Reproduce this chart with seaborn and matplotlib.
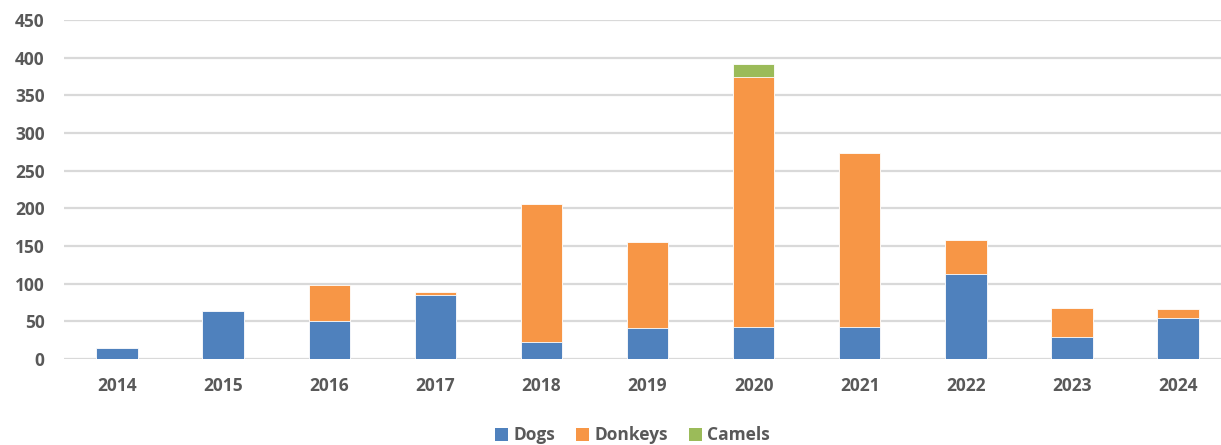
import numpy as np
import pandas as pd
import matplotlib
matplotlib.use("Agg")
import matplotlib.pyplot as plt
from matplotlib.patches import Patch
import seaborn as sns

# values
years = ["2014", "2015", "2016", "2017", "2018", "2019", "2020", "2021", "2022", "2023", "2024"]
dogs = [15, 64, 51, 85, 22, 41, 42, 43, 113, 29, 54]
donkeys = [0, 0, 47, 4, 184, 114, 332, 230, 45, 39, 12]
camels = [0, 0, 0, 0, 0, 0, 18, 0, 0, 0, 0]

series_names = ["Dogs", "Donkeys", "Camels"]
colors = ["#4f81bd", "#f79646", "#9bbb59"]

sns.set_theme(style="white")
plt.rcParams['font.family'] = ['Open Sans', 'DejaVu Sans']
plt.rcParams['font.weight'] = 'bold'

df = pd.DataFrame({"year": years, "Dogs": dogs, "Donkeys": donkeys, "Camels": camels})
# cumulative heights for stacking (draw tallest first, overlay the rest)
df["top_Dogs"] = df["Dogs"]
df["top_Donkeys"] = df["Dogs"] + df["Donkeys"]
df["top_Camels"] = df["top_Donkeys"] + df["Camels"]

fig = plt.figure(figsize=(12.21, 4.45), dpi=100)
ax = fig.add_axes([64 / 1221, 86 / 445, 1 - 64 / 1221, 339 / 445])

for name, col in reversed(list(zip(series_names, colors))):
    sns.barplot(data=df, x="year", y="top_" + name, color=col, width=0.39,
                edgecolor="white", linewidth=0.6, saturation=1, ax=ax, zorder=3)

ax.set_ylim(0, 450)
ax.set_xlim(-0.5, 10.405)
ax.set_yticks(np.arange(0, 451, 50))
ax.yaxis.grid(True, color="#d9d9d9", linewidth=1.6, zorder=0)
ax.set_axisbelow(True)
for s in ax.spines.values():
    s.set_visible(False)
ax.set_xlabel("")
ax.set_ylabel("")
ax.tick_params(axis="both", length=0, labelsize=12.5, labelcolor="#595959")
ax.tick_params(axis="y", pad=14)
ax.tick_params(axis="x", pad=13)

handles = [Patch(facecolor=c, edgecolor="none") for c in colors]
fig.legend(handles, series_names, loc="center", bbox_to_anchor=(0.518, 0.022), ncol=3,
           frameon=False, handlelength=0.75, handleheight=0.75, handletextpad=0.3,
           columnspacing=1.2, prop={"size": 12.5, "weight": "bold"}, labelcolor="#595959")

fig.savefig("out.png", dpi=100)
